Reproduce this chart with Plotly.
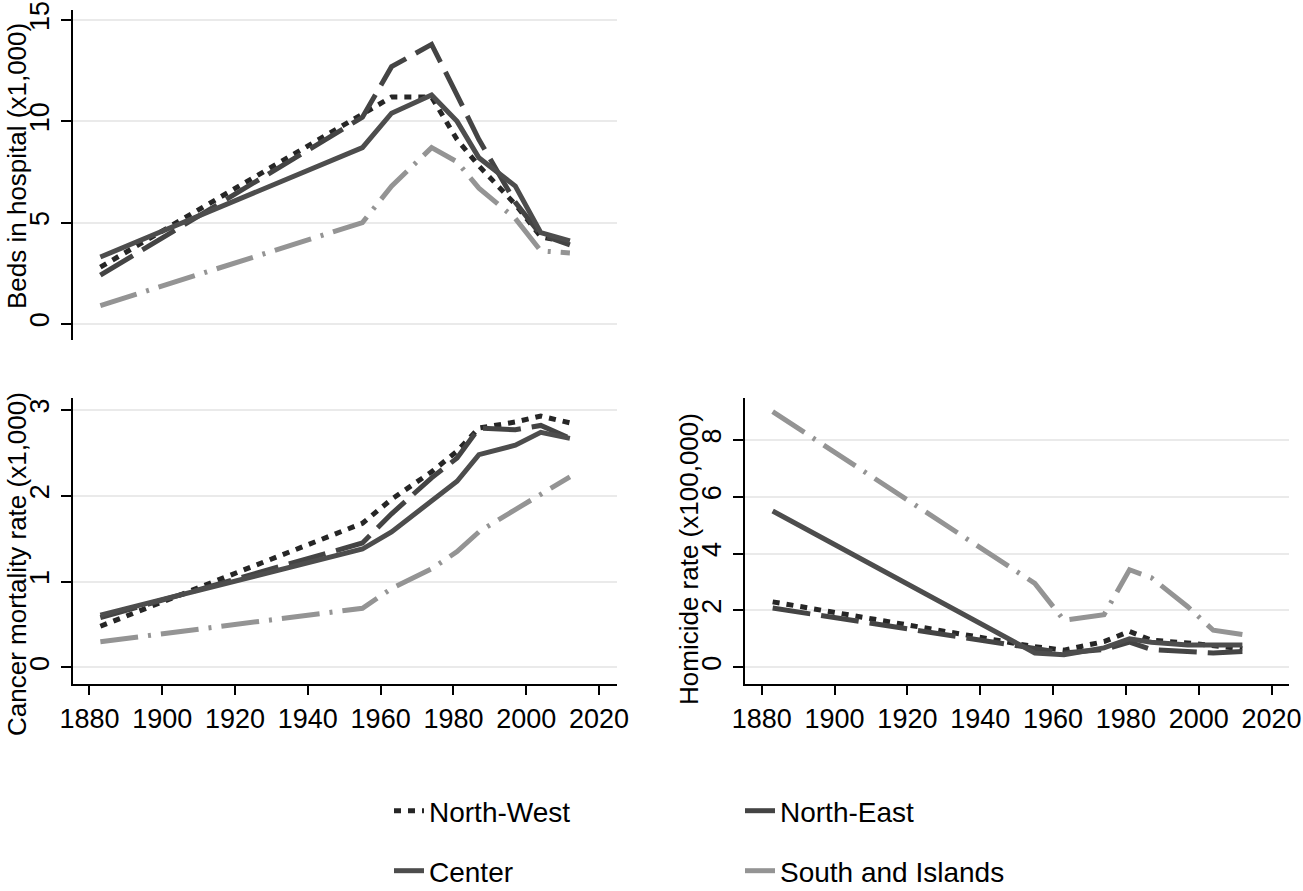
import plotly.graph_objects as go

years = [1883, 1955, 1963, 1974, 1981, 1987, 1997, 2004, 2012]
regions = ["North-West", "North-East", "Center", "South and Islands"]

beds_nw = [2.8, 10.3, 11.2, 11.2, 9.1, 7.8, 5.9, 4.3, 4.0]
beds_ne = [2.4, 10.2, 12.7, 13.8, 11.3, 9.1, 6.0, 4.4, 3.9]
beds_ce = [3.3, 8.7, 10.4, 11.3, 10.0, 8.2, 6.8, 4.5, 4.1]
beds_so = [0.9, 5.0, 6.8, 8.7, 8.0, 6.7, 5.2, 3.6, 3.5]

cancer_nw = [0.48, 1.68, 1.96, 2.28, 2.52, 2.79, 2.86, 2.93, 2.85]
cancer_ne = [0.58, 1.45, 1.79, 2.21, 2.44, 2.79, 2.77, 2.82, 2.67]
cancer_ce = [0.61, 1.38, 1.58, 1.93, 2.17, 2.48, 2.59, 2.74, 2.67]
cancer_so = [0.30, 0.69, 0.92, 1.15, 1.35, 1.58, 1.84, 2.02, 2.22]

homicide_nw = [2.3, 0.72, 0.6, 0.9, 1.26, 0.95, 0.85, 0.75, 0.65]
homicide_ne = [2.08, 0.62, 0.5, 0.62, 0.88, 0.62, 0.55, 0.5, 0.55]
homicide_ce = [5.5, 0.5, 0.44, 0.68, 1.0, 0.88, 0.78, 0.78, 0.78]
homicide_so = [9.0, 2.95, 1.65, 1.85, 3.43, 3.15, 2.13, 1.3, 1.15]

x_ticks = [1880, 1900, 1920, 1940, 1960, 1980, 2000, 2020]
beds_ticks = [0, 5, 10, 15]
cancer_ticks = [0, 1, 2, 3]
homicide_ticks = [0, 2, 4, 6, 8]

y_titles = ["Beds in hospital (x1,000)", "Cancer mortality rate (x1,000)", "Homicide rate (x100,000)"]

colors = ["#262626", "#444444", "#4d4d4d", "#949494"]
dashes = ["7px,7px", "38px,11px", "solid", "38px,10px,3px,10px"]
legends = ["legend", "legend", "legend2", "legend2"]

W, H = 1303, 891
FONT = "Liberation Sans, Arial, sans-serif"

fig = go.Figure()

panels = [
    ("x", "y", [beds_nw, beds_ne, beds_ce, beds_so]),
    ("x2", "y2", [cancer_nw, cancer_ne, cancer_ce, cancer_so]),
    ("x3", "y3", [homicide_nw, homicide_ne, homicide_ce, homicide_so]),
]
for pi, (xa, ya, series) in enumerate(panels):
    for i, vals in enumerate(series):
        fig.add_trace(go.Scatter(
            x=years, y=vals, mode="lines", name=regions[i],
            xaxis=xa, yaxis=ya,
            line=dict(color=colors[i], width=5, dash=dashes[i]),
            showlegend=(pi == 0), legend=legends[i],
            hoverinfo="skip",
        ))

def px_x(a, b):
    return [a / W, b / W]

def px_y(top, bottom):
    return [1 - bottom / H, 1 - top / H]

xr = [1875.4, 2024.8]
tickfont = dict(family=FONT, size=27, color="#000000")
titlefont = dict(family=FONT, size=26, color="#000000")

def yaxis_common(rng, tv, anchor, dom):
    return dict(
        domain=dom, range=rng, anchor=anchor, tickvals=tv,
        ticks="outside", ticklen=10, tickwidth=1.5, tickcolor="#000000",
        tickangle=-90, tickfont=tickfont, ticklabelstandoff=1,
        showline=True, linecolor="#000000", linewidth=1.5,
        showgrid=True, gridcolor="#eaeaea", gridwidth=2,
        zeroline=False,
    )

def xaxis_common(dom, anchor, visible=True):
    d = dict(domain=dom, range=xr, anchor=anchor, tickvals=x_ticks,
             ticks="outside", ticklen=10, tickwidth=1.5, tickcolor="#000000",
             tickfont=tickfont, showline=True,
             linecolor="#000000", linewidth=1.5, showgrid=False, zeroline=False)
    if not visible:
        d.update(showline=False, ticks="", showticklabels=False)
    return d

title_pos = [(17, 166), (17, 564), (689, 559)]
annotations = []
for (tx, ty), txt in zip(title_pos, y_titles):
    annotations.append(dict(
        text=txt, x=tx / W, y=1 - ty / H, xref="paper", yref="paper",
        xanchor="center", yanchor="middle", textangle=-90, showarrow=False,
        font=titlefont,
    ))

legfont = dict(family=FONT, size=28, color="#000000")
fig.update_layout(
    width=W, height=H,
    margin=dict(l=0, r=0, t=0, b=0, autoexpand=False),
    paper_bgcolor="#ffffff", plot_bgcolor="#ffffff",
    xaxis=xaxis_common(px_x(72.7, 616.5), "y", visible=False),
    yaxis=yaxis_common([-0.8, 15.5], beds_ticks, "x", px_y(10, 340)),
    xaxis2=xaxis_common(px_x(72.7, 616.5), "y2"),
    yaxis2=yaxis_common([-0.187, 3.14], cancer_ticks, "x2", px_y(398, 683.5)),
    xaxis3=xaxis_common(px_x(745, 1289), "y3"),
    yaxis3=yaxis_common([-0.576, 9.48], homicide_ticks, "x3", px_y(398, 683.5)),
    annotations=annotations,
    legend=dict(orientation="h", x=389 / W, y=1 - 811 / H, xanchor="left", yanchor="middle",
                entrywidth=306, entrywidthmode="pixels", font=legfont,
                bgcolor="rgba(0,0,0,0)", itemwidth=30),
    legend2=dict(orientation="h", x=389 / W, y=-5 / H, xanchor="left", yanchor="bottom",
                 entrywidth=306, entrywidthmode="pixels", font=legfont,
                 bgcolor="rgba(0,0,0,0)", itemwidth=30),
)

fig.write_html("out.html")
